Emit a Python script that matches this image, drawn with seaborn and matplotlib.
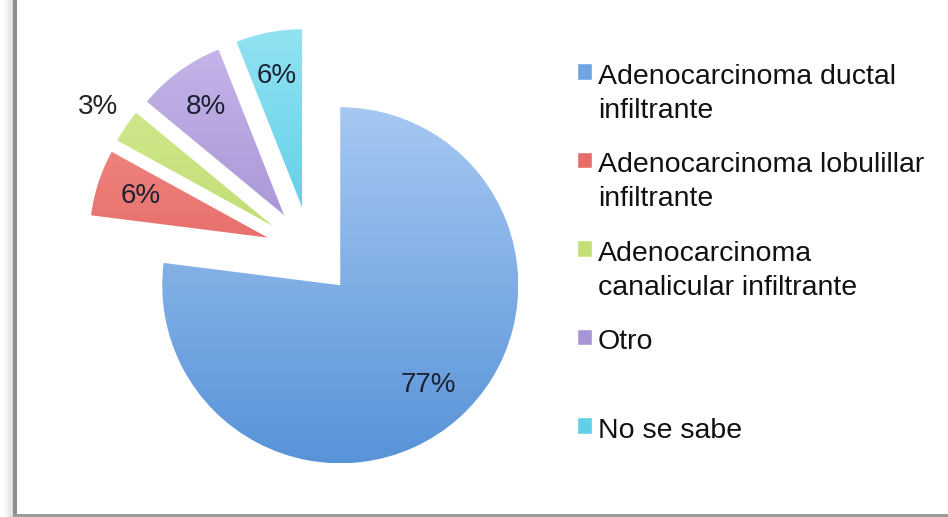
import numpy as np
import matplotlib
matplotlib.use("Agg")
import matplotlib.pyplot as plt
import seaborn as sns
from matplotlib.colors import LinearSegmentedColormap
from matplotlib.legend_handler import HandlerPatch
from matplotlib.patches import Rectangle, Wedge

# ----------------------------------------------------------------------------
# Datos
# ----------------------------------------------------------------------------
categorias = [
    "Adenocarcinoma ductal\ninfiltrante",
    "Adenocarcinoma lobulillar\ninfiltrante",
    "Adenocarcinoma\ncanalicular infiltrante",
    "Otro",
    "No se sabe",
]
porcentajes = [77, 6, 3, 8, 6]

# colores (claro arriba -> oscuro abajo), estilo Excel 2007
colores_claros = ["#a6c8f2", "#f4938e", "#d6ec96", "#c6b6ea", "#92e2f2"]
colores_oscuros = ["#5893d8", "#dc4f4a", "#b0d057", "#9079c4", "#38c0de"]
colores_medios = ["#6fa5e3", "#e86c67", "#c4df76", "#a895d6", "#5fd0e8"]

W, H = 948, 517
CX, CY = 310.5, 251.5   # centro del pastel (px, desde arriba)
R_PX = 178.0            # radio (px)
EXPLODE = 45.0 / R_PX

sns.set_theme(style="white")
plt.rcParams["font.family"] = ["Liberation Sans", "DejaVu Sans"]

fig = plt.figure(figsize=(W / 100, H / 100), dpi=100)
ax = fig.add_axes([0, 0, 1, 1])

wedges, texts, autotexts = ax.pie(
    porcentajes,
    explode=[EXPLODE] * len(porcentajes),
    startangle=90,
    counterclock=False,
    colors=colores_medios,
    autopct=lambda p: f"{p:.0f}%",
    pctdistance=0.75,
    radius=1,
    textprops={"fontsize": 20, "color": "#1c2233"},
)

# degradado vertical recortado a cada porcion
grad = np.linspace(0, 1, 256).reshape(-1, 1)
for w, c1, c2 in zip(wedges, colores_claros, colores_oscuros):
    cx, cy = w.center
    r = w.r
    cmap = LinearSegmentedColormap.from_list("g", [c2, c1])
    im = ax.imshow(grad, cmap=cmap, extent=(cx - r, cx + r, cy - r, cy + r),
                   origin="lower", aspect="auto", interpolation="bicubic",
                   zorder=w.get_zorder())
    im.set_clip_path(w)

# etiqueta del 3% fuera de la porcion
w = wedges[2]
th = np.deg2rad((w.theta1 + w.theta2) / 2)
autotexts[2].set_position((w.center[0] + 1.19 * w.r * np.cos(th),
                           w.center[1] + 1.19 * w.r * np.sin(th)))
autotexts[2].set_color("#222222")

ax.set_xlim(-CX / R_PX, (W - CX) / R_PX)
ax.set_ylim(-(H - CY) / R_PX, CY / R_PX)
ax.set_aspect("auto")
ax.axis("off")

DY_CUADRO = 16  # subir el cuadro a la primera linea (pt)


def cuadro(legend, orig_handle, xdescent, ydescent, width, height, fontsize):
    return Rectangle((-xdescent, -ydescent + DY_CUADRO), width, height)


# todas las entradas con dos lineas para un espaciado uniforme
etiquetas = [c if "\n" in c else c + "\n " for c in categorias]
leg = ax.legend(
    wedges, etiquetas,
    handler_map={Wedge: HandlerPatch(patch_func=cuadro)},
    loc="upper left",
    bbox_to_anchor=(577 / W, 1 - 64 / H),
    bbox_transform=fig.transFigure,
    frameon=False,
    fontsize=20.5,
    handlelength=0.52,
    handleheight=0.52,
    handletextpad=0.22,
    labelspacing=1.0,
    borderpad=0,
    borderaxespad=0,
)
for t in leg.get_texts():
    t.set_color("#111111")
    t.set_linespacing(1.4)

# marco: barra gris izquierda con sombra y linea inferior
for i, a in enumerate([0.05, 0.09, 0.14, 0.2, 0.28]):
    fig.add_artist(Rectangle(((4 + 2 * i) / W, 0), 2 / W, 1, transform=fig.transFigure,
                             color="#7a7a7a", alpha=a, lw=0))
fig.add_artist(Rectangle((13 / W, 0), 4 / W, 1, transform=fig.transFigure,
                         color="#8e8e8e", lw=0))
fig.add_artist(Rectangle((13 / W, 0), (W - 13) / W, 3 / H, transform=fig.transFigure,
                         color="#9a9a9a", lw=0))

fig.savefig("out.png", dpi=100)
